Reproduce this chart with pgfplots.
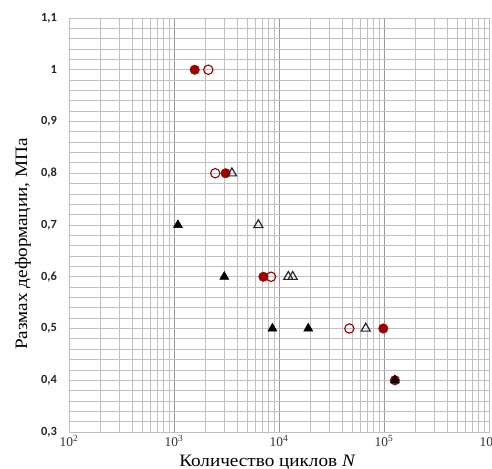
\documentclass[border=0pt]{standalone}
\usepackage{pgfplots}
\pgfplotsset{compat=1.18}
\usepackage{fontspec}
\setmainfont{Liberation Serif}
\newfontfamily\labelfont[FakeStretch=1.1]{Liberation Serif}
\newfontfamily\tickfont{Carlito}
\definecolor{dred}{HTML}{9E0000}
\definecolor{gridc}{HTML}{C0C0C0}
\definecolor{gridm}{HTML}{9A9A9A}
\begin{document}
\begin{tikzpicture}
\begin{axis}[
  scale only axis,
  width=420bp, height=414bp,
  xmode=log,
  xmin=100, xmax=1000000,
  ymin=0.3, ymax=1.1,
  xtick={100,1000,10000,100000,1000000},
  xticklabels={10\textsuperscript{2},10\textsuperscript{3},10\textsuperscript{4},10\textsuperscript{5},10\textsuperscript{6}},
  ytick={0.3,0.4,0.5,0.6,0.7,0.8,0.9,1.0,1.1},
  yticklabels={{0,3},{0,4},{0,5},{0,6},{0,7},{0,8},{0,9},{1},{1,1}},
  minor y tick num=4,
  grid=both,
  major grid style={gridc, line width=0.8pt},
  minor grid style={gridc, line width=0.8pt},
  major x grid style={gridm, line width=0.8pt},
  axis line style={gridc, line width=0.8pt},
  tick style={draw=none},
  yticklabel style={font=\tickfont\bfseries\fontsize{12.5}{13}\selectfont, text=black!85, xshift=-8.5bp},
  xticklabel style={font=\fontsize{13.5}{14}\selectfont, text=black!80, yshift=0bp},
  xlabel={Количество циклов \textit{N}},
  ylabel={Размах деформации, МПа},
  xlabel style={font=\labelfont\fontsize{17.5}{18}\selectfont, at={(axis description cs:0.4726,-0.0725)}, anchor=center},
  ylabel style={font=\labelfont\fontsize{17.5}{18}\selectfont, at={(axis description cs:-0.1095,0.454)}, anchor=center},
  clip=false,
]
% filled red circles
\addplot[only marks, mark=*, mark size=4.8pt, draw=dred, fill=dred] coordinates {
(1575,1.0) (3100,0.8) (7100,0.6) (98400,0.5) (127000,0.4)};
% open red circles
\addplot[only marks, mark=o, mark size=4.7pt, draw=dred, line width=1.1pt] coordinates {
(2120,1.0) (2470,0.8) (8400,0.6) (46800,0.5)};
% open triangles
\addplot[only marks, mark=triangle, mark size=5.3pt, draw=black!85, line width=1.2pt] coordinates {
(3560,0.8) (6360,0.7) (12270,0.6) (13500,0.6) (67000,0.5)};
% filled triangles
\addplot[only marks, mark=triangle*, mark size=5.3pt, draw=black, fill=black] coordinates {
(1090,0.7) (3010,0.6) (8650,0.5) (19000,0.5) (127000,0.4)};
\end{axis}
\pgfresetboundingbox
\path[use as bounding box] ([shift={(-69bp,-37bp)}]current axis.south west) rectangle ([shift={(3bp,18bp)}]current axis.north east);
\end{tikzpicture}
\end{document}
